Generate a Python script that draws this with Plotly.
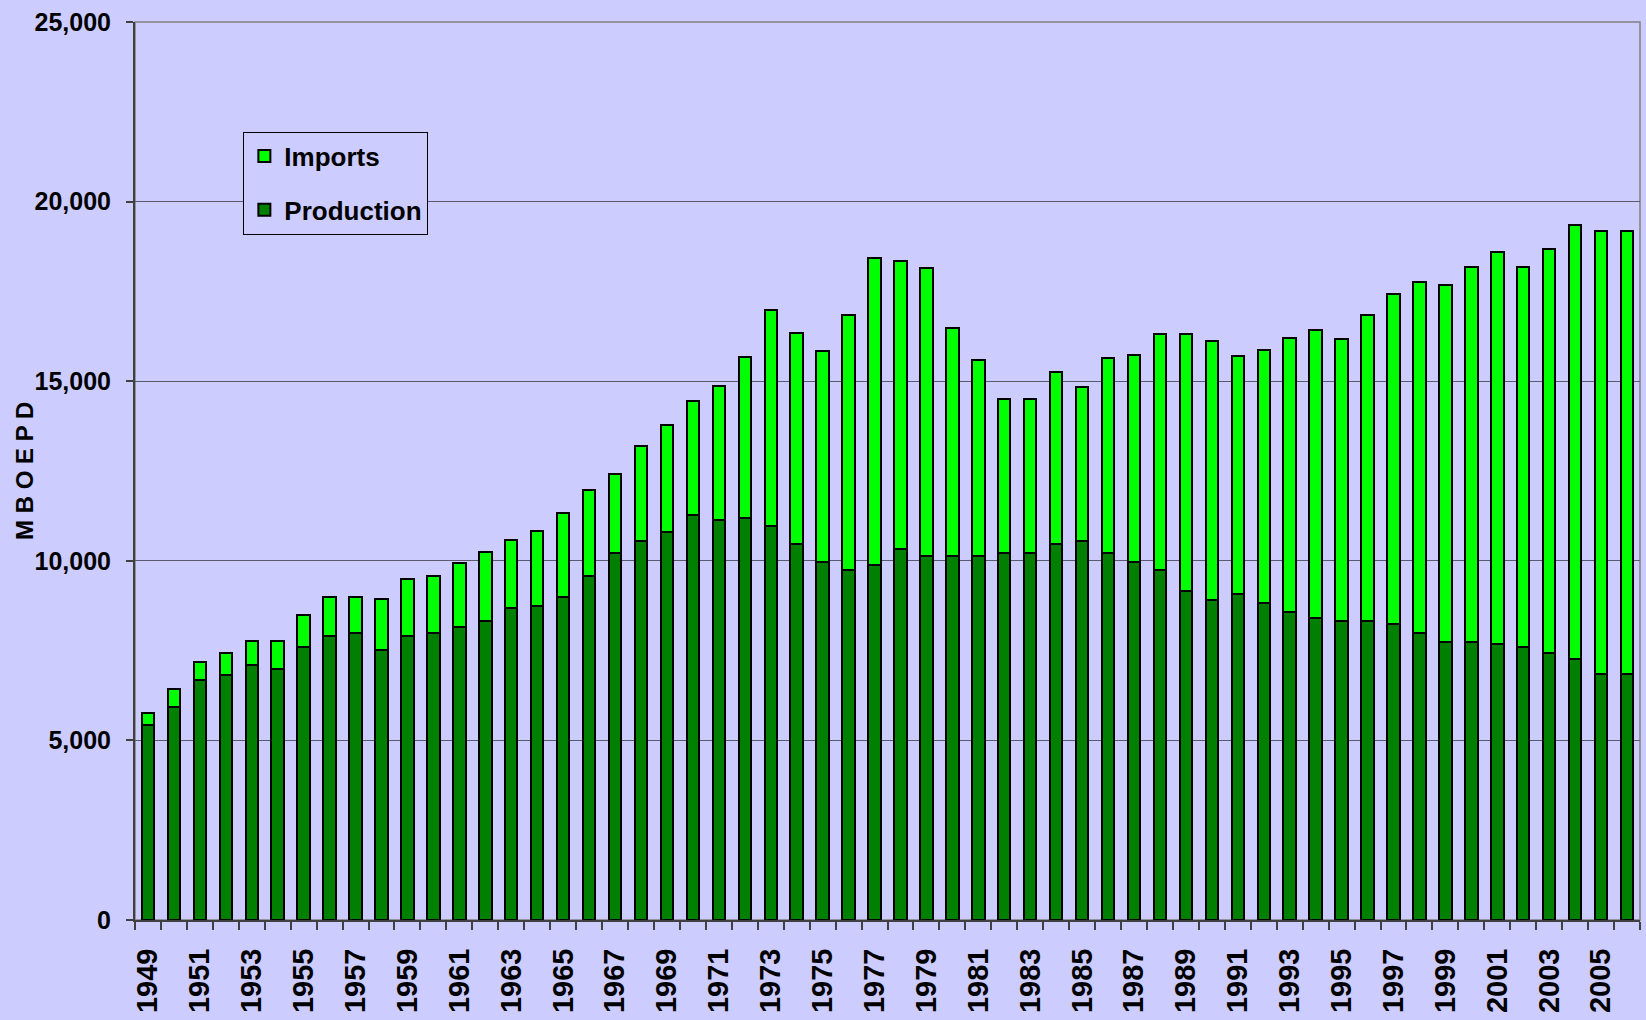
import plotly.graph_objects as go

years = list(range(1949, 2007))
total = [5766, 6430, 7179, 7431, 7757, 7757, 8505, 9000, 9000, 8925,
         9506, 9590, 9926, 10252, 10589, 10832, 11328, 11960, 12427, 13187,
         13772, 14445, 14854, 15673, 16988, 16345, 15848, 16842, 18421, 18333,
         18158, 16491, 15585, 14503, 14503, 15263, 14825, 15643, 15731, 16316,
         16316, 16110, 15701, 15860, 16194, 16434, 16183, 16852, 17437, 17763,
         17679, 18181, 18599, 18181, 18674, 19342, 19175, 19175]
production = [5420, 5917, 6674, 6832, 7094, 7000, 7599, 7916, 8000, 7504,
              7916, 8000, 8169, 8337, 8673, 8738, 9000, 9570, 10205, 10556,
              10790, 11287, 11140, 11199, 10965, 10468, 9971, 9737, 9883, 10322,
              10146, 10146, 10146, 10205, 10205, 10468, 10556, 10205, 9971, 9737,
              9152, 8912, 9079, 8839, 8588, 8410, 8338, 8338, 8235, 8004,
              7753, 7753, 7686, 7593, 7446, 7260, 6850, 6850]
imports = [t - p for t, p in zip(total, production)]

cats = [str(y) for y in years]
tick_text = [str(y) if y % 2 == 1 else "" for y in years]
y_title = "M B O E P D"

BG = "#CCCCFF"
FONT = "Liberation Sans, Arial, sans-serif"

fig = go.Figure()
fig.add_trace(go.Bar(
    x=cats, y=production, name="Production", legendgroup="p", legendrank=2,
    marker=dict(color="#008000", line=dict(color="black", width=2)),
))
fig.add_trace(go.Bar(
    x=cats, y=imports, name="Imports", legendgroup="i", legendrank=1,
    marker=dict(color="#00FF00", line=dict(color="black", width=2)),
))

fig.update_layout(
    width=1646, height=1020,
    barmode="stack", bargap=0.52,
    paper_bgcolor=BG, plot_bgcolor=BG,
    margin=dict(l=135, r=6, t=22, b=100),
    showlegend=True,
    legend=dict(
        x=0.072, y=0.878, xanchor="left", yanchor="top",
        bgcolor=BG, bordercolor="black", borderwidth=1,
        traceorder="grouped", tracegroupgap=17,
        font=dict(family=FONT, size=26, color="black", weight="bold"),
    ),
    xaxis=dict(
        type="category", tickmode="array", tickvals=cats, ticktext=tick_text,
        tickson="boundaries", ticks="outside", ticklen=8, tickcolor="#404040",
        tickwidth=1.5,
        tickangle=-90, ticklabelstandoff=15,
        tickfont=dict(family=FONT, size=29, color="black", weight="bold"),
        showline=True, linecolor="#404040", linewidth=2,
        showgrid=False, automargin=False,
    ),
    yaxis=dict(
        range=[0, 25000], dtick=5000, tickformat=",",
        ticks="outside", ticklen=7, tickcolor="#404040", tickwidth=1.5,
        ticklabelstandoff=10,
        tickfont=dict(family=FONT, size=25, color="black", weight="bold"),
        showline=True, linecolor="#404040", linewidth=2,
        showgrid=True, gridcolor="#5a5a6a", gridwidth=1,
        zeroline=False, automargin=False,
    ),
    annotations=[dict(
        text=y_title, xref="paper", yref="paper", x=-0.0738, y=0.5,
        xanchor="center", yanchor="middle", textangle=-90, showarrow=False,
        font=dict(family=FONT, size=24, color="black", weight="bold"),
    )],
    shapes=[dict(type="rect", xref="paper", yref="paper", x0=0, x1=1, y0=0, y1=1,
                 line=dict(color="#808080", width=1.5), layer="below")],
)

fig.write_html(
    "out.html",
    config={"displayModeBar": False},
    post_script="document.body.style.margin='0';document.body.style.background='#CCCCFF';",
)
